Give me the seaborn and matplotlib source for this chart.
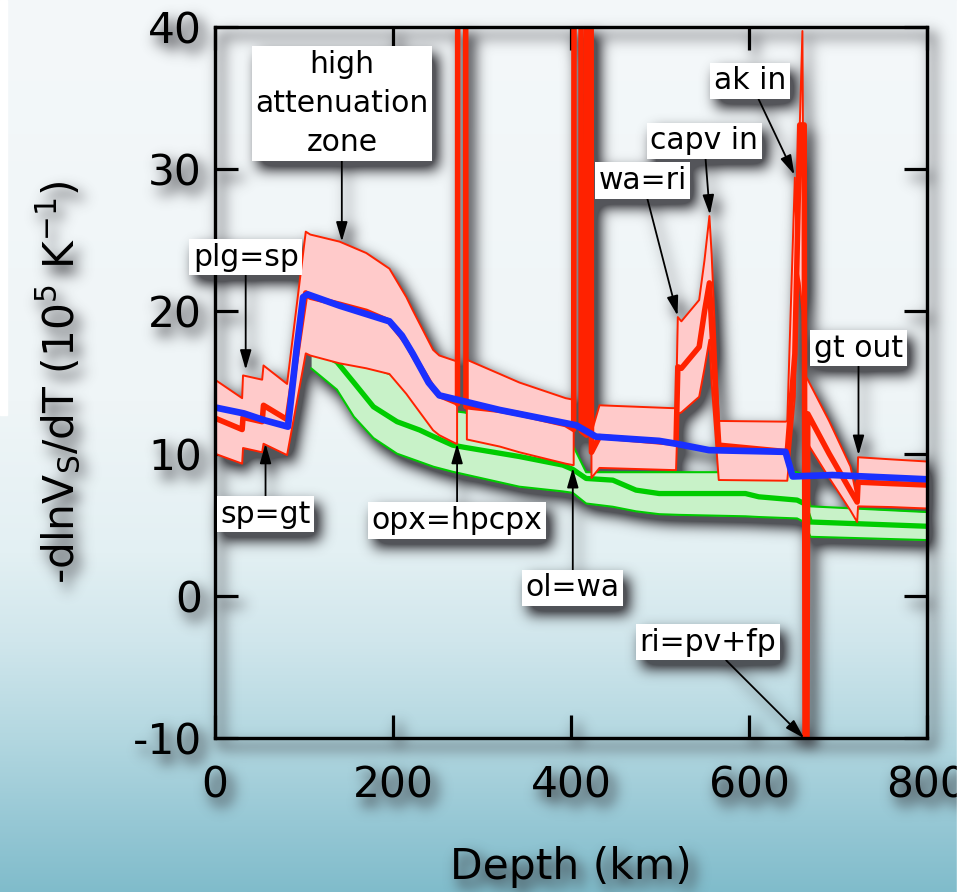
import numpy as np
import matplotlib
matplotlib.use("Agg")
import matplotlib.pyplot as plt
from matplotlib.patches import Rectangle
import seaborn as sns

# ---- model curves: depth (km) vs -dlnVs/dT (1e-5 /K) ----
# red band: upper bound, central model, lower bound (shared depth grid)
red_depth = [0, 30.5, 31.5, 53, 54.5, 81, 102, 107, 140, 170, 196, 215, 222,
             245, 252, 271, 272, 272.5, 273, 281, 282, 283, 320, 342, 394,
             402, 403, 404, 411, 411.5, 417.5, 418, 422, 423, 432, 514, 518,
             520, 524, 544, 550, 555.5, 558, 566, 641, 643, 651.5, 654, 657,
             660, 662, 663, 665, 666, 690, 714, 721.5, 722.5, 760, 800]
red_upper = [15.2, 13.9, 15.5, 15.2, 16.2, 14.9, 25.6, 25.4, 24.9, 24.1, 23.0,
             21.0, 20.1, 17.3, 16.9, 16.5, 90, 90, 90, 90, 90, 16.6, 15.6,
             15.0, 13.9, 13.8, 90, 90, 90, 90, 90, 90, 90, 11.5, 13.4, 13.2,
             13.2, 19.6, 19.3, 20.8, 23.6, 26.7, 24.0, 12.3, 12.25, 12.3,
             29.4, 23.7, 33.0, 39.7, 16.0, 15.5, 15.3, 15.2, 12.3, 9.1, 6.8,
             9.75, 9.6, 9.45]
red_center = [12.5, 11.7, 12.55, 12.25, 13.4, 12.4, 21.3, 21.0, 20.5, 20.0,
              19.3, 17.8, 17.0, 14.6, 14.1, 13.6, 13.55, 13.5, 90, 90, 13.3,
              13.3, 13.05, 12.8, 12.05, 11.75, 11.7, 90, 90, 11.6, 11.3, 90,
              90, 10.1, 11.2, 10.75, 10.7, 16.1, 16.0, 17.5, 20.0, 22.0, 19.0,
              10.6, 10.15, 10.15, 17.0, 24.0, 33.1, 33.1, 33.1, -12, -12,
              12.8, 10.0, 7.4, 6.6, 8.0, 7.9, 7.8]
red_lower = [10.0, 9.3, 10.4, 10.1, 10.7, 9.9, 17.05, 16.9, 16.35, 16.0, 15.6,
             14.2, 13.6, 11.65, 11.3, 10.7, 10.7, 90, 90, 90, 90, 11.0, 10.5,
             10.1, 9.3, 9.2, 9.2, 90, 90, 90, 90, 90, 90, 8.3, 9.0, 8.85,
             8.85, 12.8, 12.9, 14.0, 16.0, 18.0, 15.0, 8.15, 8.1, 8.1, 14.0,
             23.0, 22.0, 20.0, 12.0, 11.5, 11.0, 10.7, 8.3, 6.0, 5.2, 6.3,
             6.25, 6.15]

# blue: reference model
blue_depth = [0, 32.5, 55, 82, 92, 99, 104, 140, 196, 210, 222, 240, 252, 320,
              405.7, 428, 499, 518, 555, 641, 649, 693.6, 800]
blue_vals = [13.25, 12.83, 12.36, 11.9, 17.5, 21.0, 21.2, 20.4, 19.3, 18.3,
             17.05, 15.0, 14.1, 13.07, 12.0, 11.2, 10.9, 10.7, 10.25, 10.13,
             8.4, 8.5, 8.2]

# green band: upper bound, central model, lower bound
green_depth = [108, 137, 156, 178, 204.5, 230, 245.6, 267, 280, 342, 390.7,
               402, 417, 447, 473, 499, 521.6, 596, 611, 654, 662, 669, 800]
green_upper = [17.6, 16.95, 16.5, 16.0, 15.4, 14.0, 13.4, 13.0, 12.9, 12.0,
               11.2, 10.6, 8.7, 8.7, 8.7, 8.7, 8.7, 8.7, 8.7, 8.7, 8.5, 6.3,
               5.9]
green_center = [17.5, 16.45, 15.0, 13.3, 12.25, 11.66, 11.2, 10.6, 10.45,
                9.8, 9.2, 8.9, 8.26, 8.14, 7.44, 7.2, 7.2, 7.2, 6.97, 6.74,
                6.5, 5.2, 4.9]
green_lower = [16.0, 14.5, 12.6, 11.1, 10.0, 9.43, 9.08, 8.73, 8.55, 7.68,
               7.35, 7.25, 6.5, 6.27, 5.95, 5.75, 5.7, 5.6, 5.55, 5.45, 5.2,
               4.16, 3.93]

x_ticks = [0, 200, 400, 600, 800]
y_ticks = [-10, 0, 10, 20, 30, 40]

# phase-transition labels: text centre and arrow tip (depth, value)
ann_labels = ["high\nattenuation\nzone", "plg=sp", "sp=gt", "opx=hpcpx",
              "ol=wa", "wa=ri", "capv in", "ak in", "ri=pv+fp", "gt out"]
ann_text_x = [142.5, 34.5, 56.8, 272, 402, 480.5, 549.6, 601, 554, 723]
ann_text_y = [34.6, 23.8, 5.75, 5.3, 0.57, 29.2, 32.0, 36.2, -3.25, 17.4]
ann_tip_x = [142.5, 34.5, 56.8, 272, 402, 519.7, 556, 651, 662, 723]
ann_tip_y = [24.9, 15.9, 10.7, 10.7, 9.0, 19.7, 26.8, 29.6, -10, 9.9]


def _gauss_blur(a, sigma):
    r = max(1, int(3 * sigma))
    k = np.exp(-0.5 * (np.arange(-r, r + 1) / sigma) ** 2)
    k /= k.sum()
    a = np.apply_along_axis(np.convolve, 0, a, k, mode="same")
    a = np.apply_along_axis(np.convolve, 1, a, k, mode="same")
    return a


def drop_shadow(sigma=5.0, dx=5, dy=6, strength=0.6, color=(0.2, 0.2, 0.2)):
    """agg filter: soft drop shadow under everything the artist draws."""
    def _filter(im, dpi):
        pad = int(3 * sigma) + max(abs(dx), abs(dy)) + 2
        src = np.pad(im, ((pad, pad), (pad, pad), (0, 0)))
        alpha = src[..., 3]
        sh = _gauss_blur(alpha, sigma)
        sh = np.roll(np.roll(sh, dy, axis=0), dx, axis=1)
        sh = np.clip(sh * strength, 0, 0.85)
        a_out = alpha + sh * (1 - alpha)
        rgb = (src[..., :3] * alpha[..., None]
               + np.array(color) * (sh * (1 - alpha))[..., None])
        rgb = rgb / np.maximum(a_out[..., None], 1e-6)
        out = np.dstack([np.clip(rgb, 0, 1), np.clip(a_out, 0, 1)])
        return out, -pad, -pad
    return _filter


sns.set_theme(style="ticks")
plt.rcParams["font.family"] = ["DejaVu Sans"]
plt.rcParams["mathtext.default"] = "regular"
plt.rcParams["axes.unicode_minus"] = False

DPI = 100
fig = plt.figure(figsize=(9.75, 8.92), dpi=DPI)

# slide background: light at the top, fading to sea blue at the bottom
bg_stops = [0.0, 0.45, 0.62, 0.72, 0.83, 0.92, 1.0]
bg_cols = ["#f4f8fa", "#eff5f7", "#e3f0f3", "#d0e6ec", "#b2d7e0", "#97c8d5",
           "#80bccb"]
rows = np.linspace(0, 1, 892)
rgb = np.array([matplotlib.colors.to_rgb(c) for c in bg_cols])
grad = np.stack([np.interp(rows, bg_stops, rgb[:, i]) for i in range(3)],
                axis=-1)[:, None, :]
bg = fig.add_axes([0, 0, 1, 1], zorder=-5)
bg.imshow(grad, aspect="auto", extent=(0, 1, 0, 1), interpolation="bilinear")
bg.set_axis_off()

ax = fig.add_axes([0.2205, 0.1723, 0.7303, 0.7977], zorder=1)
ax.set_facecolor("none")

RED, PINK = "#ff2200", "#ffcaca"
BLUE = "#1a30ff"
GREEN, LGREEN = "#00cc00", "#c8f2c8"

# green band
ax.fill_between(green_depth, green_lower, green_upper, color=LGREEN, lw=0,
                zorder=1)
for vals in (green_upper, green_lower):
    sns.lineplot(x=green_depth, y=vals, ax=ax, color=GREEN, lw=1.5,
                 estimator=None, sort=False, zorder=1.1)
sns.lineplot(x=green_depth, y=green_center, ax=ax, color=GREEN, lw=3.8,
             estimator=None, sort=False, zorder=1.2)

# red band
ax.fill_between(red_depth, red_lower, red_upper, color=PINK, lw=0, zorder=2)
for vals in (red_upper, red_lower):
    sns.lineplot(x=red_depth, y=vals, ax=ax, color=RED, lw=1.4,
                 estimator=None, sort=False, zorder=2.1)
sns.lineplot(x=red_depth, y=red_center, ax=ax, color=RED, lw=4.0,
             estimator=None, sort=False, zorder=2.2)

# blue reference curve
sns.lineplot(x=blue_depth, y=blue_vals, ax=ax, color=BLUE, lw=4.8,
             estimator=None, sort=False, zorder=2.3)

ax.set_xlim(0, 800)
ax.set_ylim(-10, 40)
ax.set_xticks(x_ticks)
ax.set_yticks(y_ticks)
ax.tick_params(direction="in", length=16.5, width=2.3, top=True, right=True,
               labelsize=30.5, colors="black")
ax.tick_params(axis="x", pad=18.5)
ax.tick_params(axis="y", pad=9.5)
for sp in ax.spines.values():
    sp.set_visible(True)
    sp.set_linewidth(2.4)
    sp.set_color("black")

ax.set_xlabel("Depth (km)", fontsize=30.5, color="black")
ax.xaxis.set_label_coords(0.5, -0.152)
ax.set_ylabel("-dlnV$_S$/dT (10$^5$ K$^{-1}$)", fontsize=30.5, color="black")
ax.yaxis.set_label_coords(-0.185, 0.5)

for lab, tx, ty, px, py in zip(ann_labels, ann_text_x, ann_text_y,
                               ann_tip_x, ann_tip_y):
    ax.annotate(lab, xy=(px, py), xytext=(tx, ty), textcoords="data",
                ha="center", va="center", fontsize=21.5, color="black",
                linespacing=1.45, annotation_clip=False, zorder=5,
                bbox=dict(boxstyle="square,pad=0.12", fc="white", ec="none"),
                arrowprops=dict(arrowstyle="-|>,head_length=0.55,head_width=0.16",
                                color="black", lw=1.3, shrinkA=0, shrinkB=0))

ax.set_agg_filter(drop_shadow(sigma=7.0, dx=6, dy=8, strength=1.3,
                              color=(0.22, 0.22, 0.24)))

# slide edges
fig.add_artist(Rectangle((0.9815, 0), 0.0185, 1, transform=fig.transFigure,
                         color="white", zorder=20))
fig.add_artist(Rectangle((0, 1 - 415 / 892), 7 / 975, 415 / 892,
                         transform=fig.transFigure, color="white", zorder=20))

fig.savefig("out.png", dpi=DPI)
